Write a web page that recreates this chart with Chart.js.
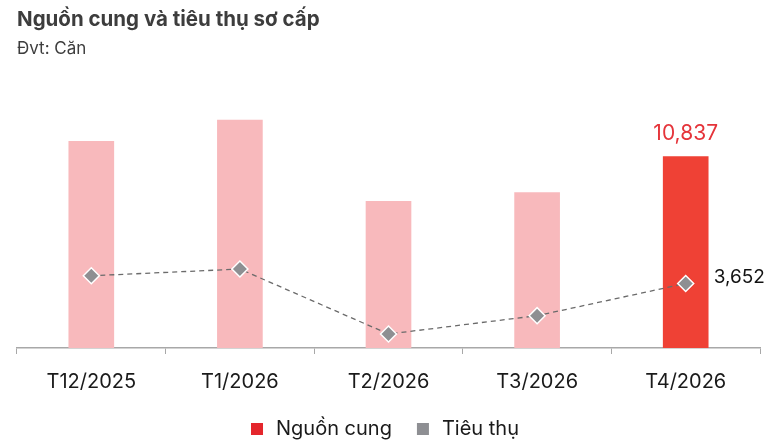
<!DOCTYPE html>
<html>
<head>
<meta charset="utf-8">
<script src="https://cdn.jsdelivr.net/npm/chart.js@4"></script>
<style>
  html, body { margin: 0; padding: 0; background: #ffffff; }
  #wrap { width: 782px; height: 448px; }
</style>
</head>
<body>
<div id="wrap"><canvas id="chart"></canvas></div>
<script>
// Values (unit: căn)
const months = ['T12/2025', 'T1/2026', 'T2/2026', 'T3/2026', 'T4/2026'];
const supply = [11700, 12900, 8300, 8800, 10837];   // Nguồn cung
const sales = [4090, 4470, 790, 1830, 3652];        // Tiêu thụ
const labelledIndex = 4;                            // only the last month is labelled

const barColors = ['#f8b9bc', '#f8b9bc', '#f8b9bc', '#f8b9bc', '#ef4135'];
const legendItems = [
    { text: 'Nguồn cung', color: '#e4262c' },
    { text: 'Tiêu thụ', color: '#8e8f93' }
];
const fontFamily = 'Inter, "Noto Sans", sans-serif';

// Draws the two value labels for the last month
const valueLabels = {
    id: 'valueLabels',
    afterDatasetsDraw(chart) {
        const ctx = chart.ctx;
        const bar = chart.getDatasetMeta(1).data[labelledIndex];
        const point = chart.getDatasetMeta(0).data[labelledIndex];
        ctx.save();
        ctx.font = '21px ' + fontFamily;
        ctx.fillStyle = '#e5343a';
        ctx.textAlign = 'center';
        ctx.textBaseline = 'bottom';
        ctx.fillText(supply[labelledIndex].toLocaleString('en-US'), bar.x, bar.y - 12);

        ctx.font = '19px ' + fontFamily;
        ctx.fillStyle = '#111111';
        ctx.textAlign = 'left';
        ctx.textBaseline = 'middle';
        ctx.fillText(sales[labelledIndex].toLocaleString('en-US'), point.x + 28, point.y - 6);
        ctx.restore();
    }
};

// Legend drawn by hand so the box/text gaps match the original
const bottomLegend = {
    id: 'bottomLegend',
    afterDraw(chart) {
        const ctx = chart.ctx;
        const box = 12, boxGap = 13, itemGap = 25;
        const y = 429;
        ctx.save();
        ctx.font = '20px ' + fontFamily;
        ctx.textBaseline = 'middle';
        ctx.textAlign = 'left';
        const widths = legendItems.map(it => ctx.measureText(it.text).width);
        let total = 0;
        widths.forEach((w, i) => { total += box + boxGap + w + (i > 0 ? itemGap : 0); });
        let x = 385 - total / 2;
        legendItems.forEach((it, i) => {
            ctx.fillStyle = it.color;
            ctx.fillRect(x, y - box / 2, box, box);
            ctx.fillStyle = '#1a1a1a';
            ctx.fillText(it.text, x + box + boxGap, y);
            x += box + boxGap + widths[i] + itemGap;
        });
        ctx.restore();
    }
};

new Chart(document.getElementById('chart'), {
    data: {
        labels: months,
        datasets: [
            {
                type: 'line',
                label: 'Tiêu thụ',
                data: sales,
                borderColor: '#6b6b6b',
                borderWidth: 1.3,
                borderDash: [5, 4],
                tension: 0,
                pointStyle: 'rectRot',
                pointRadius: 8,
                pointBackgroundColor: '#8e8f92',
                pointBorderColor: '#ffffff',
                pointBorderWidth: 1.5,
                order: 0
            },
            {
                type: 'bar',
                label: 'Nguồn cung',
                data: supply,
                backgroundColor: barColors,
                barThickness: 45,
                order: 1
            }
        ]
    },
    options: {
        responsive: true,
        maintainAspectRatio: false,
        animation: false,
        layout: { padding: { left: 17, right: 22, top: 0, bottom: 38 } },
        scales: {
            x: {
                offset: true,
                grid: {
                    offset: true,
                    drawOnChartArea: false,
                    drawTicks: true,
                    tickLength: 6,
                    color: '#a8a8a8'
                },
                border: { color: '#a8a8a8', width: 1.5 },
                ticks: {
                    color: '#1a1a1a',
                    padding: 16,
                    font: { family: fontFamily, size: 20 }
                }
            },
            y: {
                display: false,
                min: 0,
                max: 14100
            }
        },
        plugins: {
            title: {
                display: true,
                text: 'Nguồn cung và tiêu thụ sơ cấp',
                align: 'start',
                color: '#3d3d3d',
                font: { family: fontFamily, size: 20.5, weight: 'bold' },
                padding: { top: 8, bottom: 6 }
            },
            subtitle: {
                display: true,
                text: 'Đvt: Căn',
                align: 'start',
                color: '#3d3d3d',
                font: { family: fontFamily, size: 17 },
                padding: { bottom: 40 }
            },
            legend: { display: false },
            tooltip: { enabled: false }
        }
    },
    plugins: [valueLabels, bottomLegend]
});
</script>
</body>
</html>
